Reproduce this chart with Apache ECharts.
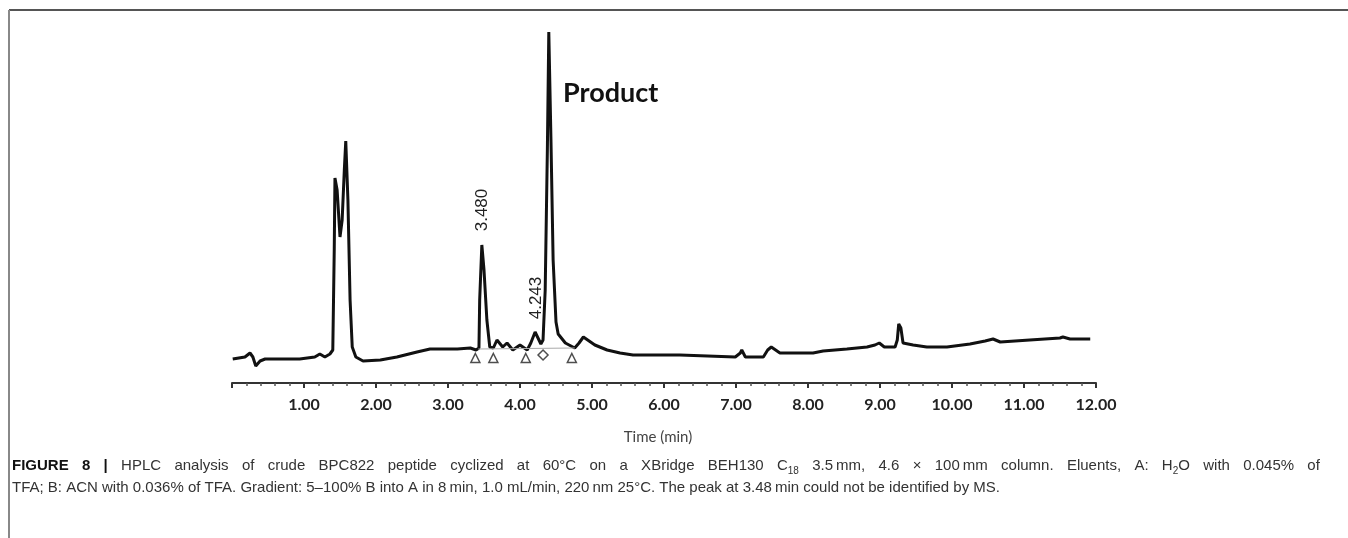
<!DOCTYPE html>
<html>
<head>
<meta charset="utf-8">
<title>HPLC BPC822</title>
<script src="https://cdn.jsdelivr.net/npm/echarts@6/dist/echarts.min.js"></script>
<style>
    html, body { margin: 0; padding: 0; background: #fff; }
    #hplc { width: 1348px; height: 538px; }
</style>
</head>
<body>
<div id="hplc"></div>
<script>
//chromatogram trace: time (min) / signal
var traceTime = [0.01, 0.18, 0.25, 0.29, 0.33, 0.39, 0.46, 0.94, 1.15, 1.22, 1.29, 1.36, 1.40, 1.42, 1.43, 1.46, 1.50, 1.53,
    1.56, 1.58, 1.61, 1.64, 1.67, 1.72, 1.82, 2.06, 2.29, 2.57, 2.75, 3.13, 3.31, 3.39, 3.43, 3.44, 3.47, 3.50, 3.54, 3.58,
    3.63, 3.68, 3.76, 3.82, 3.90, 4.00, 4.10, 4.15, 4.21, 4.25, 4.29, 4.32, 4.35, 4.38, 4.40, 4.43, 4.46, 4.50, 4.53, 4.63,
    4.76, 4.82, 4.88, 4.94, 5.04, 5.21, 5.39, 5.57, 6.22, 6.99, 7.06, 7.08, 7.13, 7.38, 7.44, 7.49, 7.61, 8.07, 8.21, 8.54,
    8.82, 8.93, 8.99, 9.06, 9.21, 9.24, 9.26, 9.29, 9.32, 9.46, 9.65, 9.93, 10.25, 10.46, 10.57, 10.67, 11.08, 11.50, 11.54,
    11.64, 11.92];
var traceSignal = [24, 26, 30, 26, 17, 22, 24, 24, 26, 29, 26, 29, 33, 133, 205, 193, 146, 163,
    213, 242, 183, 83, 36, 26, 22, 23, 26, 31, 34, 34, 35, 33, 35, 83, 138, 113, 63, 36,
    35, 43, 36, 40, 33, 38, 33, 40, 51, 45, 39, 43, 93, 233, 351, 243, 123, 61, 49, 40,
    35, 40, 46, 43, 38, 33, 30, 28, 28, 26, 30, 33, 26, 26, 33, 36, 30, 30, 32, 34,
    36, 38, 40, 36, 36, 43, 59, 55, 40, 38, 36, 36, 39, 42, 44, 41, 43, 45, 46,
    44, 44];

//integration marks under the peaks
var markTime = [3.38, 3.63, 4.08, 4.72];
var markSignal = [25, 25, 25, 25];
var diamondTime = [4.32];
var diamondSignal = [28];
var integBaseTime = [3.42, 4.76];
var integBaseSignal = [34, 35];

//peak labels (retention times)
var peakNames = ['3.480', '4.243'];
var peakLabelTime = [3.47, 4.22];
var peakLabelSignal = [173, 85];

var xTicks = [0, 1, 2, 3, 4, 5, 6, 7, 8, 9, 10, 11, 12];

//caption, first line is justified
var caption1 = '{b|FIGURE} {b|8} {b||} HPLC analysis of crude BPC822 peptide cyclized at 60°C on a XBridge BEH130 C{s|18} 3.5\u2009mm, 4.6 × 100\u2009mm column. Eluents, A: H{s|2}O with 0.045% of';
var caption2 = 'TFA; B: ACN with 0.036% of TFA. Gradient: 5–100% B into A in 8\u2009min, 1.0 mL/min, 220\u2009nm 25°C. The peak at 3.48\u2009min could not be identified by MS.';

(function () {

    var chart = echarts.init(document.getElementById('hplc'), null, { renderer: 'canvas' });

    var zip = function (xs, ys) {
        return xs.map(function (x, i) { return [x, ys[i]]; });
    };

    var capFont = 'Liberation Sans';

    var option = {
        animation: false,
        backgroundColor: '#fff',
        grid: { left: 232, right: 252, top: 33, bottom: 155 },
        xAxis: {
            type: 'value',
            min: xTicks[0],
            max: xTicks[xTicks.length - 1],
            interval: 1,
            name: 'Time (min)',
            nameLocation: 'middle',
            nameGap: 47,
            nameTextStyle: { fontFamily: 'Lato', fontSize: 15, color: '#444', padding: [0, 12, 0, 0] },
            axisLine: { lineStyle: { color: '#333', width: 2 } },
            axisTick: { show: true, length: 5, lineStyle: { color: '#333', width: 2 } },
            minorTick: { show: true, splitNumber: 5, length: 3, lineStyle: { color: '#555', width: 1.5 } },
            splitLine: { show: false },
            axisLabel: {
                margin: 14,
                fontFamily: 'Lato',
                fontWeight: 'bold',
                fontSize: 16,
                color: '#222',
                formatter: function (v) { return v === 0 ? '' : v.toFixed(2); }
            }
        },
        yAxis: { type: 'value', min: 0, max: 350, show: false },
        series: [
            {
                name: 'trace',
                type: 'line',
                data: zip(traceTime, traceSignal),
                symbol: 'none',
                smooth: false,
                lineStyle: { color: '#111', width: 3 },
                markPoint: {
                    symbol: 'circle',
                    symbolSize: 1,
                    itemStyle: { color: 'rgba(0,0,0,0)' },
                    label: {
                        show: true,
                        position: 'inside',
                        rotate: 90,
                        fontFamily: 'Liberation Sans',
                        fontSize: 17,
                        color: '#222',
                        formatter: function (p) { return p.name; }
                    },
                    data: peakNames.map(function (n, i) {
                        return { name: n, coord: [peakLabelTime[i], peakLabelSignal[i]] };
                    })
                }
            },
            {
                name: 'integration',
                type: 'line',
                data: zip(integBaseTime, integBaseSignal),
                symbol: 'none',
                lineStyle: { color: '#aaa', width: 1 }
            },
            {
                name: 'marks',
                type: 'scatter',
                data: zip(markTime, markSignal),
                symbol: 'triangle',
                symbolSize: 9,
                itemStyle: { color: '#fff', borderColor: '#222', borderWidth: 1.5 }
            },
            {
                name: 'marks2',
                type: 'scatter',
                data: zip(diamondTime, diamondSignal),
                symbol: 'diamond',
                symbolSize: 10,
                itemStyle: { color: '#fff', borderColor: '#222', borderWidth: 1.5 }
            }
        ],
        graphic: [
            //frame
            { type: 'line', shape: { x1: 9, y1: 10, x2: 1348, y2: 10 }, style: { stroke: '#555', lineWidth: 2 } },
            { type: 'line', shape: { x1: 9, y1: 10, x2: 9, y2: 538 }, style: { stroke: '#888', lineWidth: 2 } },
            {
                type: 'text', left: 563, top: 80,
                style: { text: 'Product', font: 'bold 27px Lato', fill: '#111' }
            },
            {
                type: 'text', left: 12, top: 456,
                style: {
                    text: caption1.split(' ').join('{sp| }'),
                    font: '15px "' + capFont + '"',
                    fill: '#333',
                    lineHeight: 20,
                    rich: {
                        b: { fontWeight: 'bold', fontSize: 15, fontFamily: capFont, fill: '#111', lineHeight: 20 },
                        sp: { fontSize: 15, fontFamily: capFont, width: 13.3, lineHeight: 20 },
                        s: { fontSize: 10, fontFamily: capFont, fill: '#333', lineHeight: 12, verticalAlign: 'bottom' }
                    }
                }
            },
            {
                type: 'text', left: 12, top: 480,
                style: { text: caption2, font: '15px "' + capFont + '"', fill: '#333' }
            }
        ]
    };

    chart.setOption(option);
})();
</script>
</body>
</html>
